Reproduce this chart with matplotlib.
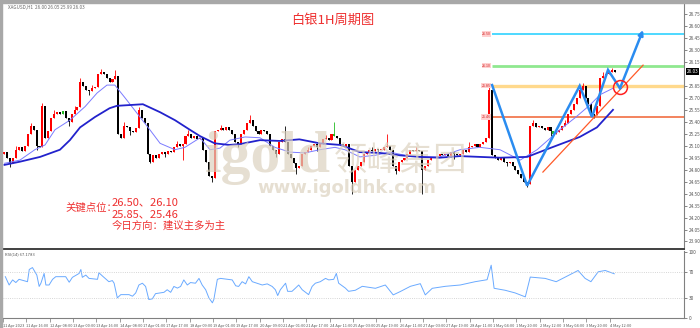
import numpy as np
import matplotlib.pyplot as plt
from matplotlib.patches import Rectangle

plt.rcParams['font.family'] = ['Noto Sans CJK SC', 'DejaVu Sans']

# XAGUSD closes (one value per 2 hours)
closes = [
    25.02, 24.95, 24.88, 24.95, 25.05, 25.08, 25.03, 25.10, 25.25, 25.35,
    25.30, 25.10, 25.08, 25.60, 25.20, 25.28, 25.45, 25.50, 25.52, 25.50,
    25.53, 25.45, 25.40, 25.50, 25.55, 25.58, 25.90, 25.85, 25.80, 25.78,
    25.82, 25.84, 26.00, 26.02, 26.00, 25.95, 25.90, 25.93, 25.98, 25.25,
    25.20, 25.35, 25.33, 25.28, 25.27, 25.32, 25.55, 25.45, 25.38, 25.00,
    24.90, 24.98, 24.95, 25.00, 25.02, 25.00, 25.03, 25.02, 25.08, 25.12,
    25.10, 25.12, 25.22, 25.25, 25.20, 25.22, 25.18, 25.20, 25.05, 24.90,
    24.72, 24.70, 25.28, 25.30, 25.32, 25.30, 25.33, 25.30, 25.25, 25.15,
    25.12, 25.25, 25.30, 25.38, 25.42, 25.35, 25.28, 25.25, 25.30, 25.28,
    25.25, 25.10, 25.05, 25.00, 25.15, 25.18, 25.15, 25.00, 24.95, 24.88,
    24.82, 24.85, 25.00, 25.02, 25.05, 25.10, 25.12, 25.08, 25.12, 25.18,
    25.20, 25.17, 25.25, 25.22, 25.20, 25.12, 25.10, 25.12, 24.85, 24.65,
    24.80, 24.85, 24.90, 25.00, 25.02, 25.05, 25.03, 25.06, 25.05, 25.05,
    25.08, 25.10, 25.05, 24.85, 24.78, 24.90, 24.92, 24.95, 25.00, 25.05,
    25.03, 25.05, 25.03, 24.80, 24.85, 24.92, 24.95, 24.95, 24.97, 25.00,
    24.98, 25.00, 24.97, 25.02, 25.00, 24.98, 25.00, 25.05, 25.02, 25.08,
    25.10, 25.12, 25.08, 25.12, 25.15, 25.20, 25.80, 24.98, 24.95, 24.92,
    24.95, 24.90, 24.88, 24.90, 24.85, 24.80, 24.75, 24.70, 24.65, 24.62,
    25.35, 25.38, 25.33, 25.35, 25.32, 25.30, 25.33, 25.28, 25.25, 25.27,
    25.30, 25.35, 25.38, 25.50, 25.55, 25.62, 25.70, 25.80, 25.85, 25.70,
    25.62, 25.50, 25.48, 25.60, 25.95, 25.98, 26.00, 26.02, 26.05, 26.03,
]
first_open = 25.00
# long wicks that stick out of the bodies
wick_hi = {4: 25.10, 9: 25.38, 13: 25.63, 17: 25.55, 24: 25.60, 26: 25.95,
           30: 25.86, 33: 26.06, 38: 26.05, 41: 25.40, 46: 25.58, 59: 25.16,
           63: 25.30, 74: 25.36, 84: 25.48, 96: 25.35, 104: 25.08, 110: 25.24,
           113: 25.40, 126: 25.09, 131: 25.25, 141: 25.09, 159: 25.15,
           166: 25.87, 181: 25.42, 192: 25.42, 198: 25.88, 205: 26.03, 208: 26.07}
wick_lo = {2: 24.83, 11: 25.05, 22: 25.35, 29: 25.74, 43: 25.24, 50: 24.88,
           55: 24.96, 61: 24.92, 71: 24.65, 80: 25.08, 93: 24.96, 100: 24.75,
           107: 25.04, 119: 24.50, 128: 25.00, 134: 24.75, 143: 24.50,
           154: 24.94, 172: 24.84, 179: 24.58, 187: 25.22, 202: 25.45}
doji = [20, 113, 188]

# moving averages (bar index, price)
ma_fast_x = [0, 5.3, 10.4, 13.9, 17.3, 22.4, 27.6, 31.7, 35.1, 37.8, 41.3, 46.4,
             49.8, 53.3, 58.4, 61.8, 67, 70.4, 73.8, 77.2, 82.4, 87.5, 92.6,
             97.8, 102.9, 108, 113.2, 116.6, 121.7, 126.9, 132, 137.2, 142.3,
             149, 156, 162.8, 169.7, 176.6, 182.4, 190.2, 195.4, 200.5, 204, 208.4]
ma_fast_y = [24.88, 24.92, 25.05, 25.11, 25.30, 25.42, 25.59, 25.76, 25.86, 25.86,
             25.70, 25.46, 25.30, 25.13, 25.05, 25.08, 25.20, 25.05, 25.07, 25.17,
             25.21, 25.20, 25.08, 25.02, 25.01, 25.05, 25.08, 25.05, 24.96, 24.98,
             25.02, 24.98, 24.96, 24.96, 25.05, 25.08, 25.05, 24.92, 25.05, 25.30,
             25.45, 25.61, 25.74, 25.82]
ma_slow_x = [0, 5.3, 12.2, 19, 22.4, 25.9, 31, 36, 38.5, 43, 47.4, 53.3, 58.4,
             63.5, 67, 72, 77, 80.6, 87.5, 94.3, 101, 108, 115, 121.7, 128.6,
             135.4, 142.3, 149, 156, 162.8, 169.7, 179, 186.8, 192.6, 197, 202.9, 208.4]
ma_slow_y = [24.86, 24.90, 24.96, 25.05, 25.17, 25.33, 25.46, 25.57, 25.60, 25.61,
             25.62, 25.52, 25.42, 25.30, 25.22, 25.13, 25.11, 25.12, 25.17, 25.16,
             25.18, 25.13, 25.11, 25.02, 25.01, 24.98, 24.96, 24.95, 24.97, 24.96,
             24.95, 24.96, 25.07, 25.15, 25.21, 25.33, 25.55]

# RSI(14)
rsi_x = [0, 1.3, 2.5, 3.6, 4.7, 7.6, 8.2, 9.3, 10.8, 11.6, 12.2, 13.3, 13.9, 15,
         16.2, 17.3, 20.7, 21.9, 23, 25.3, 25.9, 26.4, 27.6, 28.7, 31.6, 32.1,
         33.3, 35.5, 36.7, 37.3, 38.4, 39.6, 42.4, 43.6, 44.7, 45.8, 47, 48.1,
         49.2, 50.4, 51.5, 54.4, 55.5, 56.7, 57.8, 59, 60.1, 61.2, 62.4, 63.5,
         65.2, 66.4, 67.5, 68.7, 69.8, 71, 71.5, 72.7, 73.8, 77.8, 79, 80, 81.2,
         82.4, 83.5, 84.7, 88.1, 89.8, 91.5, 92.6, 93.4, 94.3, 96.1, 96.8, 98.3,
         99.5, 100.6, 101.8, 104, 105.2, 106.3, 108, 109.8, 110.9, 112.6, 113.5,
         114.3, 116.6, 117.7, 120, 122.4, 126.9, 130.3, 133, 135.4, 138.9, 142.3,
         144, 146.4, 150.9, 156, 161.1, 165.2, 166.6, 167.6, 171.4, 174.8, 178.3,
         180, 185.1, 188.9, 192, 196.4, 198.8, 200.8, 203.3, 205.7, 208.8]
rsi_y = [62.6, 50, 57.7, 53.7, 58.6, 55, 73.5, 76.4, 65, 47.8, 52.7, 67.5, 50, 50,
         58.6, 62.6, 62.6, 54.2, 61.6, 67.5, 73.5, 61.6, 65, 60, 58.6, 68.5,
         63.6, 55, 56.7, 52.7, 30.5, 35.4, 35.4, 33, 37.9, 50, 52.7, 47.8,
         28, 29, 36.9, 38.9, 42.8, 38.9, 47.8, 45.3, 47.8, 57.7, 50, 53.7,
         52.7, 60, 50, 42.8, 30.5, 23, 28, 58.6, 60, 57.7, 48.8, 47.8, 55,
         51.7, 62.6, 55, 50, 51.7, 47.8, 42.8, 34, 42.8, 52.7, 40.4, 40.4,
         45.3, 50, 42.8, 35.4, 47.8, 52.7, 55, 60, 57.7, 58.6, 67.5,
         52.7, 45.3, 40.4, 42, 48, 45, 50, 35, 40, 48, 52,
         35, 45, 48, 50, 55, 58, 80, 45, 42, 38, 32,
         62, 60, 55, 62, 72, 60, 55, 70, 72, 67]

# analyst drawings
levels = [26.50, 26.10, 25.85, 25.46]
level_labels = ['26.50', '26.10', '25.85', '25.46']
level_colors = ['#3fd6ff', '#8fe88f', '#ffd98c', '#f27a50']
level_widths = [1.3, 2.0, 2.4, 1.3]
arrow_x = [167, 179, 197, 201.2, 206.7, 210.8, 218.7]
arrow_y = [25.86, 24.60, 25.85, 25.46, 26.05, 25.82, 26.55]
trend_x = [184.4, 218.7]
trend_y = [24.77, 26.11]
circle_x, circle_y = 210.8, 25.84
last_price = 26.03

time_labels = ['11 Apr 2023', '11 Apr 16:00', '12 Apr 08:00', '13 Apr 00:00',
               '13 Apr 16:00', '14 Apr 08:00', '17 Apr 01:00', '17 Apr 17:00',
               '18 Apr 09:00', '19 Apr 01:00', '19 Apr 17:00', '20 Apr 09:00',
               '21 Apr 01:00', '21 Apr 17:00', '24 Apr 11:00', '25 Apr 03:00',
               '25 Apr 19:00', '26 Apr 11:00', '27 Apr 03:00', '27 Apr 19:00',
               '28 Apr 11:00', '1 May 04:00', '1 May 20:00', '2 May 12:00',
               '3 May 04:00', '3 May 20:00', '4 May 12:00']

W, H = 700, 328
RED = '#ee3030'
fig = plt.figure(figsize=(W / 100, H / 100), dpi=100)
ax = fig.add_axes([3 / W, 1 - 249 / H, 681 / W, 245 / H])
ax2 = fig.add_axes([3 / W, 1 - 318 / H, 681 / W, 67 / H])

n = len(closes)
x = np.arange(n)
c = np.array(closes)
o = np.concatenate([[first_open], c[:-1]])
hi = np.maximum(o, c)
lo = np.minimum(o, c)
for k, v in wick_hi.items():
    hi[k] = max(v, hi[k])
for k, v in wick_lo.items():
    lo[k] = min(v, lo[k])
cols = np.where(c >= o, '#ff0000', '#000000').astype(object)
for k in doji:
    cols[k] = '#22bb22'
body = np.maximum(np.abs(c - o), 0.012)

ax.vlines(x, lo, hi, colors=list(cols), lw=0.6, zorder=3)
ax.bar(x, body, bottom=np.minimum(o, c), width=0.7, color=list(cols), lw=0, zorder=3)

ax.plot(ma_fast_x, ma_fast_y, color='#7b7bff', lw=0.7, zorder=4)
ax.plot(ma_slow_x, ma_slow_y, color='#2222cc', lw=1.3, zorder=4)

xmax = -0.5 + 681 / 2.92
for lv, lab, col, w in zip(levels, level_labels, level_colors, level_widths):
    ax.hlines(lv, 167, xmax, color=col, lw=w, zorder=2)
    ax.text(166.6, lv, lab, fontsize=2.6, color='#d02020', ha='right', va='center',
            bbox=dict(boxstyle='square,pad=0.15', fc='#ffd0d0', ec='none'), zorder=5)

ax.plot(trend_x, trend_y, color='#ff5a28', lw=0.9, zorder=5)
ax.plot(arrow_x[:-1], arrow_y[:-1], color='#2a8cf0', lw=1.8, zorder=6,
        solid_joinstyle='miter')
ax.annotate('', xy=(arrow_x[-1], arrow_y[-1]), xytext=(arrow_x[-2], arrow_y[-2]),
            arrowprops=dict(arrowstyle='-|>', color='#2a8cf0', lw=1.8,
                            mutation_scale=7, shrinkA=0, shrinkB=0), zorder=6)
ax.plot([circle_x], [circle_y], 'o', ms=10, mfc='none', mec='#ff2020', mew=1.1, zorder=7)

ax.set_xlim(-0.5, xmax)
ax.set_ylim(23.806, 26.876)
ax.yaxis.tick_right()
yt = [t for t in np.round(np.arange(23.90, 26.76, 0.15), 2) if abs(t - last_price) > 0.05]
ax.set_yticks(yt)
ax.yaxis.set_major_formatter(plt.FormatStrFormatter('%.2f'))
ax.tick_params(axis='y', labelsize=3.4, length=2, width=0.5, pad=1.5,
               colors='#555555')
ax.set_xticks([])
for s in ['top', 'left']:
    ax.spines[s].set_visible(False)
ax.spines['right'].set_color('#808080')
ax.spines['right'].set_linewidth(0.8)
ax.spines['bottom'].set_color('#404040')
ax.spines['bottom'].set_linewidth(1.4)
ax.annotate(f'{last_price:.2f}', xy=(1.004, last_price), xycoords=('axes fraction', 'data'),
            fontsize=3.4, color='white', va='center', ha='left',
            bbox=dict(boxstyle='square,pad=0.2', fc='black', ec='none'))

# RSI panel
ax2.plot(rsi_x, rsi_y, color='#6aaaff', lw=0.7)
ax2.axhline(70, color='#c8c8c8', lw=0.6, ls=':')
ax2.axhline(30, color='#c8c8c8', lw=0.6, ls=':')
ax2.set_xlim(-0.5, xmax)
ax2.set_ylim(1.9, 101.5)
ax2.yaxis.tick_right()
ax2.set_yticks([0, 30, 70, 100])
ax2.tick_params(axis='y', labelsize=3.4, length=2, width=0.5, pad=1.5, colors='#555555')
tick_pos = np.arange(len(time_labels)) * 8 - 0.8
ax2.set_xticks(tick_pos)
ax2.set_xticklabels(time_labels, ha='left', fontstretch='condensed')
ax2.tick_params(axis='x', labelsize=2.8, length=3, width=0.4, pad=1, colors='#555555')
for s in ['top', 'left']:
    ax2.spines[s].set_visible(False)
for s in ['right', 'bottom']:
    ax2.spines[s].set_color('#808080')
    ax2.spines[s].set_linewidth(0.8)

# frame + texts
fig.patches.append(Rectangle((0, 1 - 3 / H), 1, 3 / H, transform=fig.transFigure,
                             color='#a8a8a8'))
fig.patches.append(Rectangle((0, 0), 2 / W, 1, transform=fig.transFigure, color='#a8a8a8'))

fig.text(8 / W, 1 - 5 / H, 'XAGUSD,H1  26.00 26.05 25.99 26.03', fontsize=3.3,
         color='#666666', va='top')
fig.text(5 / W, 1 - 252 / H, 'RSI(14) 67.1783', fontsize=3.0, color='#555555', va='top')
fig.text(333 / W, 1 - 20 / H, '白银1H周期图', color=RED, fontsize=9.5,
         ha='center', va='center')
fig.text(65 / W, 1 - 208 / H, '关键点位：', color=RED, fontsize=7.5, va='center')
fig.text(112 / W, 1 - 202 / H, '26.50、26.10', color=RED, fontsize=8, va='center')
fig.text(112 / W, 1 - 214 / H, '25.85、25.46', color=RED, fontsize=8, va='center')
fig.text(112 / W, 1 - 226 / H, '今日方向：建议主多为主', color=RED, fontsize=7.5,
         va='center')

wm = '#dcd2bf'
fig.text(205 / W, 1 - 172 / H, 'igold', family='Liberation Serif', weight='bold',
         fontsize=43, color=wm, alpha=0.7, va='baseline')
fig.text(334 / W, 1 - 170 / H, '领峰集团', fontsize=24, color=wm,
         alpha=0.7, va='baseline')
fig.text(257 / W, 1 - 193 / H, 'www.igoldhk.com', family='DejaVu Sans', weight='bold',
         fontsize=13, color=wm, alpha=0.7, va='baseline')

fig.savefig('out.png', dpi=100, facecolor='white')
